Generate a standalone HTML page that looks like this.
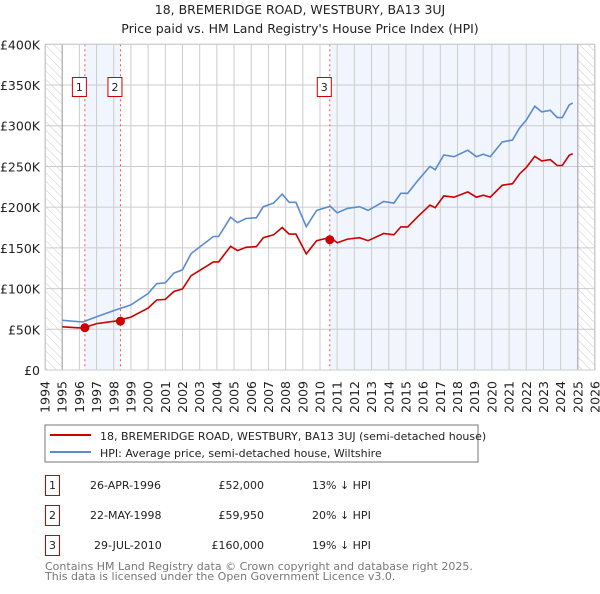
<!DOCTYPE html>
<html><head><meta charset="utf-8"><style>
body{margin:0;background:#fff;font-family:"DejaVu Sans","Liberation Sans",sans-serif;}
svg text{font-family:"DejaVu Sans","Liberation Sans",sans-serif;}
</style></head><body>
<svg id="c" width="600" height="590" xmlns="http://www.w3.org/2000/svg">
<defs><pattern id="hatch" width="6" height="6" patternUnits="userSpaceOnUse" patternTransform="rotate(-45)"><line x1="0" y1="0" x2="0" y2="6" stroke="#ccc" stroke-width="1"/></pattern></defs>
<text x="300" y="14" text-anchor="middle" font-size="12.5" fill="#222">18, BREMERIDGE ROAD, WESTBURY, BA13 3UJ</text>
<text x="300" y="33" text-anchor="middle" font-size="12.5" fill="#222">Price paid vs. HM Land Registry's House Price Index (HPI)</text>
<g id="plot"></g>
<rect x="45" y="425" width="433" height="37" fill="#fff" stroke="#777"/>
<line x1="50" y1="435" x2="91" y2="435" stroke="#cc0000" stroke-width="2"/>
<text x="100" y="440" font-size="11" fill="#222">18, BREMERIDGE ROAD, WESTBURY, BA13 3UJ (semi-detached house)</text>
<line x1="50" y1="452" x2="91" y2="452" stroke="#5b8bd0" stroke-width="2"/>
<text x="100" y="457" font-size="11" fill="#222">HPI: Average price, semi-detached house, Wiltshire</text>
<g font-size="11" fill="#222">
<rect x="45.5" y="475.5" width="14" height="20" fill="#fff" stroke="#cc0000"/><text x="52.5" y="489" text-anchor="middle">1</text>
<text x="90" y="489">26-APR-1996</text><text x="264" y="489" text-anchor="end">£52,000</text><text x="312" y="489">13% ↓ HPI</text>
<rect x="45.5" y="505.5" width="14" height="20" fill="#fff" stroke="#cc0000"/><text x="52.5" y="519" text-anchor="middle">2</text>
<text x="90" y="519">22-MAY-1998</text><text x="264" y="519" text-anchor="end">£59,950</text><text x="312" y="519">20% ↓ HPI</text>
<rect x="45.5" y="535.5" width="14" height="20" fill="#fff" stroke="#cc0000"/><text x="52.5" y="549" text-anchor="middle">3</text>
<text x="94" y="549">29-JUL-2010</text><text x="264" y="549" text-anchor="end">£160,000</text><text x="312" y="549">19% ↓ HPI</text>
</g>
<text x="45" y="570" font-size="11" fill="#777">Contains HM Land Registry data © Crown copyright and database right 2025.</text>
<text x="45" y="580" font-size="11" fill="#777">This data is licensed under the Open Government Licence v3.0.</text>
</svg>
<script>
const hpiYears=[1995.0,1996.2,1997.0,1998.1,1999.0,2000.0,2000.5,2001.0,2001.5,2002.0,2002.5,2003.0,2003.8,2004.1,2004.8,2005.2,2005.7,2006.3,2006.7,2007.3,2007.8,2008.2,2008.6,2009.0,2009.2,2009.8,2010.6,2011.0,2011.6,2012.3,2012.8,2013.7,2014.3,2014.7,2015.1,2015.7,2016.4,2016.7,2017.2,2017.8,2018.6,2019.1,2019.5,2019.9,2020.6,2021.2,2021.6,2022.0,2022.5,2022.9,2023.4,2023.8,2024.1,2024.5,2024.7];
const hpiValues=[61000,59000,65500,73700,80000,94000,106000,107000,119000,123000,143000,151000,164000,164000,187500,181000,186000,187000,200600,205000,216000,206000,206000,186000,176000,196000,201000,193000,198500,200600,196000,207000,205000,217000,217000,233000,250000,246000,264000,262000,270000,262000,265000,262000,280000,282500,297000,307000,324000,317000,319000,310000,310000,325500,328000];
const priceValues=[53000,51500,57000,60000,65000,76000,86000,86700,96400,99600,115800,122300,132800,132800,151900,146600,150700,151500,162500,166000,175000,166900,166900,150700,142600,158800,162800,156300,160800,162500,158800,167700,166000,175800,175800,188700,202500,199300,213800,212200,218700,212200,214700,212200,226800,228800,240600,248700,262400,256800,258400,251100,251100,263700,265700];
const saleYears=[1996.32,1998.39,2010.57];
const salePrices=[52000,59950,160000];
const saleLabels=["1","2","3"];
const yTicks=[0,50000,100000,150000,200000,250000,300000,350000,400000];
const yTickLabels=["£0","£50K","£100K","£150K","£200K","£250K","£300K","£350K","£400K"];
const xTicks=[1994,1995,1996,1997,1998,1999,2000,2001,2002,2003,2004,2005,2006,2007,2008,2009,2010,2011,2012,2013,2014,2015,2016,2017,2018,2019,2020,2021,2022,2023,2024,2025,2026];
const X0=45,X1=595,Y0=370,Y1=44.3;
const xs=y=>X0+(y-1994)/32*(X1-X0);
const ys=v=>Y0-v/400000*(Y0-Y1);
const NS="http://www.w3.org/2000/svg";
const g=document.getElementById('plot');
function mk(t,a){const e=document.createElementNS(NS,t);for(const k in a)e.setAttribute(k,a[k]);g.appendChild(e);return e;}
let e;
e=mk('rect',{x:X0,y:Y1,width:X1-X0,height:Y0-Y1,fill:'#fff'});


e=mk('rect',{x:xs(saleYears[0]),y:Y1,width:xs(saleYears[1])-xs(saleYears[0]),height:Y0-Y1,fill:'#eef3fc',opacity:0.8});


e=mk('rect',{x:xs(saleYears[2]),y:Y1,width:xs(2025)-xs(saleYears[2]),height:Y0-Y1,fill:'#eef3fc',opacity:0.8});


e=mk('rect',{x:X0,y:Y1,width:xs(1995)-X0,height:Y0-Y1,fill:'url(#hatch)'});


e=mk('rect',{x:xs(2025),y:Y1,width:X1-xs(2025),height:Y0-Y1,fill:'url(#hatch)'});


yTicks.forEach((v,i)=>{
 e=mk('line',{x1:X0,x2:X1,y1:ys(v),y2:ys(v),stroke:'#ccc'});
 
 
 e=mk('text',{x:X0-5,y:ys(v)+5,'text-anchor':'end','font-size':'12.5',fill:'#222'});
 e.textContent=yTickLabels[i];
 
 
});
xTicks.forEach(y=>{
 e=mk('line',{x1:xs(y),x2:xs(y),y1:Y1,y2:Y0,stroke:(y===1995||y===2025)?'#999':'#ccc'});
 
 
 e=mk('text',{x:0,y:0,'text-anchor':'end','font-size':'12.5',fill:'#222',transform:`translate(${xs(y)+4.5},381) rotate(-90)`});
 e.textContent=String(y);
 
 
});
function path(xa,va){return xa.map((x,i)=>(i?'L':'M')+xs(x).toFixed(1)+','+ys(va[i]).toFixed(1)).join('');}
e=mk('path',{d:path(hpiYears,hpiValues),fill:'none',stroke:'#5b8bd0','stroke-width':1.6});


e=mk('path',{d:path(hpiYears,priceValues),fill:'none',stroke:'#cc0000','stroke-width':1.6});


saleYears.forEach((y,i)=>{
 e=mk('line',{x1:xs(y),x2:xs(y),y1:Y1,y2:Y0,stroke:'#ee5555','stroke-dasharray':'2,3'});
 
 
 e=mk('circle',{cx:xs(y),cy:ys(salePrices[i]),r:4.5,fill:'#cc0000'});
 
 
 e=mk('rect',{x:xs(y)-12.5,y:77.5,width:14,height:19,fill:'#fff',stroke:'#cc0000'});
 
 
 e=mk('text',{x:xs(y)-5.5,y:91,'text-anchor':'middle','font-size':'11',fill:'#222'});
 e.textContent=saleLabels[i];
 
 
});
e=mk('rect',{x:X0+0.5,y:Y1,width:X1-X0-1,height:Y0-Y1,fill:'none',stroke:'#ccc'});


</script>
</body></html>
